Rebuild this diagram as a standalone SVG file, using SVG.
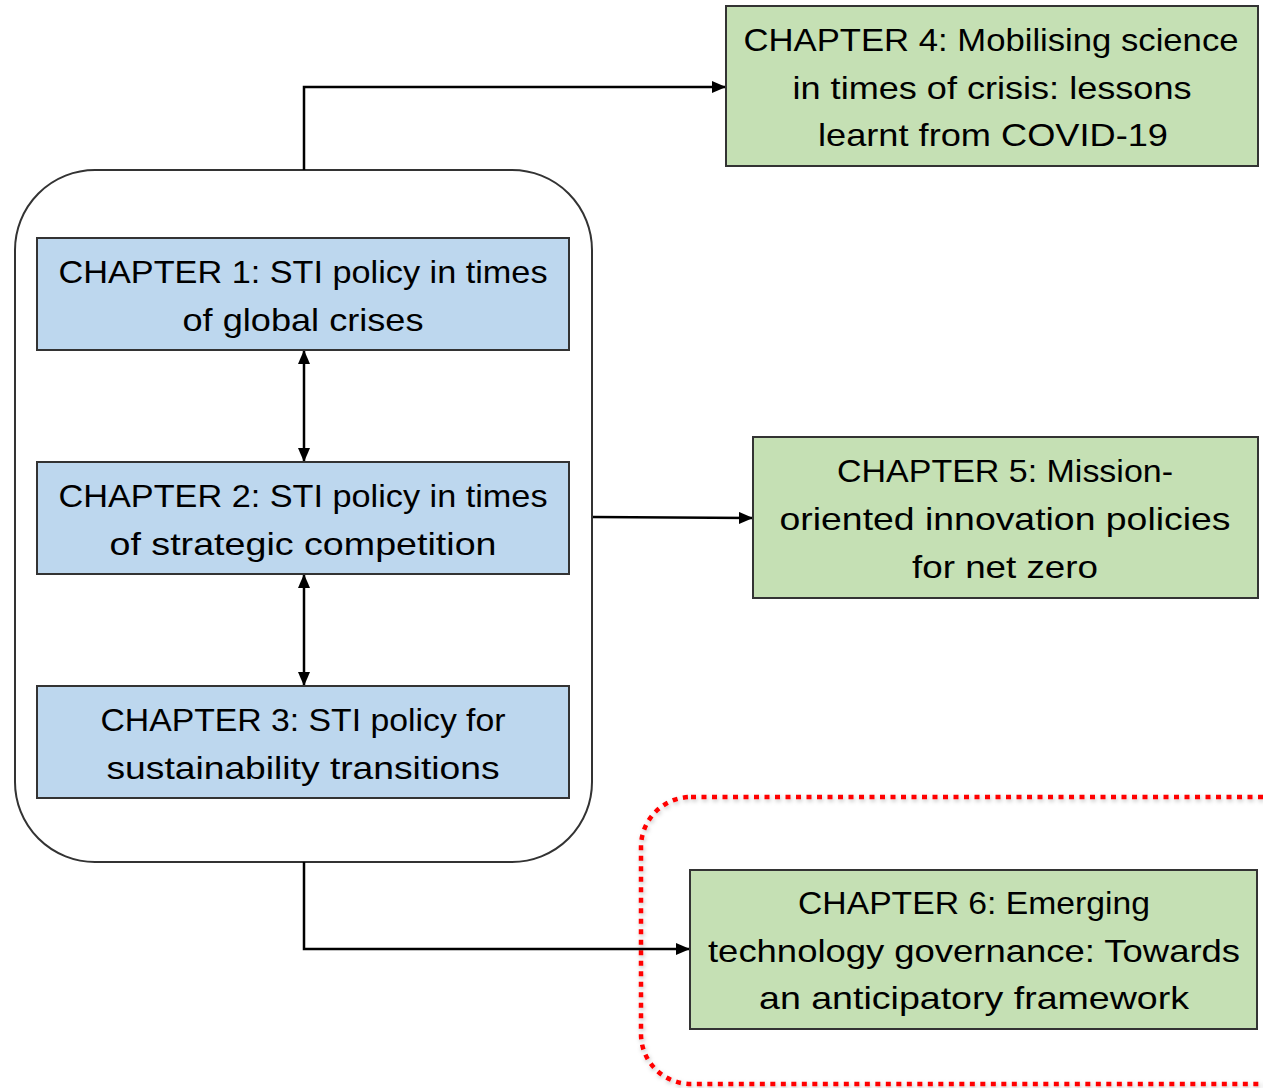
<svg xmlns="http://www.w3.org/2000/svg" width="1263" height="1088" viewBox="0 0 1263 1088">
<style>
.blue{fill:#bdd7ee;stroke:#333;stroke-width:2}
.green{fill:#c5e0b4;stroke:#333;stroke-width:2}
.t{font-family:"Liberation Sans",Arial,sans-serif;font-size:32px;fill:#000;text-anchor:middle}
.conn{fill:none;stroke:#000;stroke-width:2.5}
</style>
<defs>
<marker id="ah" markerWidth="14" markerHeight="12" refX="13" refY="6" orient="auto-start-reverse" markerUnits="userSpaceOnUse">
<path d="M0,0 L14,6 L0,12 Z" fill="#000"/>
</marker>
<filter id="sh" x="-10%" y="-10%" width="120%" height="120%">
<feDropShadow dx="1" dy="2" stdDeviation="2" flood-color="#000" flood-opacity="0.25"/>
</filter>
</defs>
<g id="highlight">
<rect x="641" y="797" width="700" height="287" rx="50" fill="none" stroke="#ff0000" stroke-width="4.5" stroke-dasharray="5 5.5" filter="url(#sh)"/>
</g>
<g id="container">
<rect x="15" y="170" width="577" height="692" rx="80" fill="#fff" stroke="#333" stroke-width="2"/>
</g>
<g id="connectors">
<path class="conn" d="M304,170 V87 H725" marker-end="url(#ah)"/>
<path class="conn" d="M593,517 L752,518" marker-end="url(#ah)"/>
<path class="conn" d="M304,862 V949 H689" marker-end="url(#ah)"/>
<path class="conn" d="M304,351 V461" marker-start="url(#ah)" marker-end="url(#ah)"/>
<path class="conn" d="M304,575 V685" marker-start="url(#ah)" marker-end="url(#ah)"/>
</g>
<g id="ch1">
<rect class="blue" x="37" y="238" width="532" height="112"/>
<text class="t" x="303" y="283" textLength="489" lengthAdjust="spacingAndGlyphs">CHAPTER 1: STI policy in times</text>
<text class="t" x="303" y="331" textLength="241" lengthAdjust="spacingAndGlyphs">of global crises</text>
</g>
<g id="ch2">
<rect class="blue" x="37" y="462" width="532" height="112"/>
<text class="t" x="303" y="507" textLength="489" lengthAdjust="spacingAndGlyphs">CHAPTER 2: STI policy in times</text>
<text class="t" x="303" y="555" textLength="387" lengthAdjust="spacingAndGlyphs">of strategic competition</text>
</g>
<g id="ch3">
<rect class="blue" x="37" y="686" width="532" height="112"/>
<text class="t" x="303" y="731" textLength="405" lengthAdjust="spacingAndGlyphs">CHAPTER 3: STI policy for</text>
<text class="t" x="303" y="779" textLength="393" lengthAdjust="spacingAndGlyphs">sustainability transitions</text>
</g>
<g id="ch4">
<rect class="green" x="726" y="6" width="532" height="160"/>
<text class="t" x="991" y="51" textLength="495" lengthAdjust="spacingAndGlyphs">CHAPTER 4: Mobilising science</text>
<text class="t" x="992" y="99" textLength="399" lengthAdjust="spacingAndGlyphs">in times of crisis: lessons</text>
<text class="t" x="993" y="146" textLength="350" lengthAdjust="spacingAndGlyphs">learnt from COVID-19</text>
</g>
<g id="ch5">
<rect class="green" x="753" y="437" width="505" height="161"/>
<text class="t" x="1005" y="482" textLength="336" lengthAdjust="spacingAndGlyphs">CHAPTER 5: Mission-</text>
<text class="t" x="1005" y="530" textLength="451" lengthAdjust="spacingAndGlyphs">oriented innovation policies</text>
<text class="t" x="1005" y="578" textLength="186" lengthAdjust="spacingAndGlyphs">for net zero</text>
</g>
<g id="ch6">
<rect class="green" x="690" y="870" width="567" height="159"/>
<text class="t" x="974" y="914" textLength="352" lengthAdjust="spacingAndGlyphs">CHAPTER 6: Emerging</text>
<text class="t" x="974" y="962" textLength="532" lengthAdjust="spacingAndGlyphs">technology governance: Towards</text>
<text class="t" x="974" y="1009" textLength="430" lengthAdjust="spacingAndGlyphs">an anticipatory framework</text>
</g>
</svg>
